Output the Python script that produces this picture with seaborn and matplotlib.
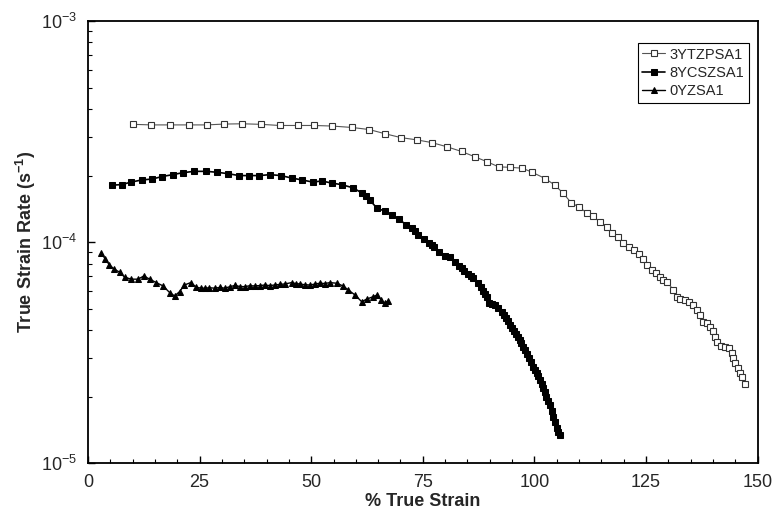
import numpy as np
import pandas as pd
import matplotlib
matplotlib.use('Agg')
import matplotlib.pyplot as plt
import seaborn as sns
from matplotlib.ticker import LogLocator, MultipleLocator

# 3YTZPSA1 (open squares)
strain_3y = [10.1, 14.2, 18.4, 22.6, 26.6, 30.5, 34.6, 38.8, 42.9, 47.0, 50.6, 54.7,
             59.2, 63.0, 66.6, 70.1, 73.7, 77.0, 80.4, 83.7, 86.7, 89.4, 92.0, 94.5,
             97.3, 99.5, 102.4, 104.6, 106.5, 108.2, 110.0, 111.7, 113.2, 114.7, 116.2,
             117.4, 118.7, 119.9, 121.2, 122.3, 123.4, 124.4, 125.3, 126.3, 127.2, 128.1,
             128.9, 129.8, 131.1, 131.9, 132.6, 133.7, 134.7, 135.6, 136.4, 137.1, 137.8,
             138.6, 139.3, 140.0, 140.5, 141.0, 141.7, 142.7, 143.5, 144.2, 144.6, 145.0,
             145.6, 146.1, 146.6, 147.2]
rate_3y = [3.41e-4, 3.39e-4, 3.39e-4, 3.39e-4, 3.39e-4, 3.42e-4, 3.43e-4, 3.41e-4, 3.37e-4,
           3.37e-4, 3.37e-4, 3.35e-4, 3.30e-4, 3.23e-4, 3.09e-4, 2.97e-4, 2.90e-4, 2.82e-4,
           2.70e-4, 2.57e-4, 2.43e-4, 2.31e-4, 2.19e-4, 2.18e-4, 2.16e-4, 2.07e-4, 1.94e-4,
           1.81e-4, 1.66e-4, 1.51e-4, 1.44e-4, 1.36e-4, 1.31e-4, 1.23e-4, 1.17e-4, 1.10e-4,
           1.05e-4, 9.95e-5, 9.53e-5, 9.21e-5, 8.81e-5, 8.39e-5, 7.88e-5, 7.48e-5, 7.28e-5,
           6.98e-5, 6.74e-5, 6.60e-5, 6.08e-5, 5.67e-5, 5.52e-5, 5.48e-5, 5.38e-5, 5.20e-5,
           4.94e-5, 4.69e-5, 4.37e-5, 4.30e-5, 4.15e-5, 3.97e-5, 3.74e-5, 3.55e-5, 3.40e-5,
           3.37e-5, 3.31e-5, 3.14e-5, 2.98e-5, 2.83e-5, 2.70e-5, 2.55e-5, 2.45e-5, 2.28e-5]

# 8YCSZSA1 (filled squares)
strain_8y = [5.3, 7.5, 9.7, 12.0, 14.4, 16.6, 19.0, 21.2, 23.7, 26.5, 28.9, 31.4, 33.8,
             36.0, 38.4, 40.8, 43.2, 45.6, 48.0, 50.3, 52.4, 54.6, 56.8, 59.4, 61.3, 62.2,
             63.1, 64.8, 66.6, 68.1, 69.7, 71.2, 72.5, 73.3, 74.0, 75.3, 76.4, 77.0, 77.6,
             78.7, 80.0, 81.2, 82.3, 83.2, 83.7, 84.2, 85.2, 85.8, 86.3, 87.4, 88.0, 88.5,
             89.0, 89.4, 89.8, 90.5, 91.1, 91.9, 92.7, 93.2, 93.6, 94.1, 94.5, 95.0, 95.4,
             95.9, 96.4, 96.8, 97.1, 97.5, 97.9, 98.3, 98.8, 99.3, 99.7, 100.1, 100.5, 100.9,
             101.2, 101.6, 102.0, 102.4, 102.7, 103.1, 103.5, 103.9, 104.2, 104.6, 105.1,
             105.4, 105.7]
rate_8y = [1.81e-4, 1.82e-4, 1.87e-4, 1.91e-4, 1.93e-4, 1.98e-4, 2.02e-4, 2.06e-4, 2.09e-4,
           2.09e-4, 2.07e-4, 2.04e-4, 2.00e-4, 2.00e-4, 2.00e-4, 2.02e-4, 2.00e-4, 1.95e-4,
           1.91e-4, 1.87e-4, 1.89e-4, 1.85e-4, 1.82e-4, 1.76e-4, 1.67e-4, 1.61e-4, 1.55e-4,
           1.42e-4, 1.38e-4, 1.32e-4, 1.27e-4, 1.20e-4, 1.16e-4, 1.12e-4, 1.08e-4, 1.03e-4,
           9.89e-5, 9.68e-5, 9.46e-5, 9.06e-5, 8.64e-5, 8.54e-5, 8.16e-5, 7.80e-5, 7.60e-5,
           7.41e-5, 7.18e-5, 7.02e-5, 6.87e-5, 6.56e-5, 6.30e-5, 6.03e-5, 5.84e-5, 5.65e-5,
           5.29e-5, 5.25e-5, 5.20e-5, 5.02e-5, 4.85e-5, 4.70e-5, 4.54e-5, 4.38e-5, 4.22e-5,
           4.09e-5, 3.96e-5, 3.85e-5, 3.73e-5, 3.61e-5, 3.50e-5, 3.37e-5, 3.25e-5, 3.12e-5,
           2.99e-5, 2.86e-5, 2.73e-5, 2.64e-5, 2.56e-5, 2.47e-5, 2.38e-5, 2.28e-5, 2.19e-5,
           2.09e-5, 2.00e-5, 1.91e-5, 1.83e-5, 1.72e-5, 1.62e-5, 1.53e-5, 1.44e-5, 1.39e-5,
           1.34e-5]

# 0YZSA1 (filled triangles)
strain_0y = [3.0, 3.9, 4.8, 5.9, 7.1, 8.2, 9.7, 11.2, 12.5, 13.8, 15.3, 16.8, 18.3, 19.4,
             20.5, 21.6, 23.0, 24.3, 25.2, 26.1, 27.2, 28.4, 29.5, 30.6, 31.7, 32.9, 34.0,
             35.1, 36.2, 37.3, 38.5, 39.6, 40.7, 41.8, 43.0, 44.1, 45.6, 46.5, 47.4, 48.5,
             49.7, 50.8, 51.9, 53.0, 54.2, 55.7, 57.1, 58.3, 59.8, 61.3, 62.4, 63.9, 64.8,
             65.7, 66.5, 67.2]
rate_0y = [8.91e-5, 8.36e-5, 7.88e-5, 7.54e-5, 7.31e-5, 6.94e-5, 6.80e-5, 6.80e-5, 7.03e-5,
           6.80e-5, 6.56e-5, 6.34e-5, 5.91e-5, 5.71e-5, 5.97e-5, 6.40e-5, 6.56e-5, 6.25e-5,
           6.20e-5, 6.19e-5, 6.22e-5, 6.19e-5, 6.24e-5, 6.19e-5, 6.28e-5, 6.37e-5, 6.30e-5,
           6.29e-5, 6.35e-5, 6.34e-5, 6.36e-5, 6.40e-5, 6.36e-5, 6.40e-5, 6.44e-5, 6.47e-5,
           6.56e-5, 6.50e-5, 6.47e-5, 6.42e-5, 6.40e-5, 6.46e-5, 6.52e-5, 6.50e-5, 6.56e-5,
           6.52e-5, 6.34e-5, 6.08e-5, 5.77e-5, 5.38e-5, 5.52e-5, 5.67e-5, 5.77e-5, 5.47e-5,
           5.29e-5, 5.43e-5]

sns.set_style('white')
plt.rcParams['font.family'] = ['Liberation Sans', 'DejaVu Sans']
plt.rcParams['mathtext.fontset'] = 'custom'
plt.rcParams['mathtext.rm'] = 'Liberation Sans'
plt.rcParams['mathtext.bf'] = 'Liberation Sans:bold'

fig = plt.figure(figsize=(7.79, 5.13), dpi=100)
ax = fig.add_axes([0.113, 0.097, 0.8595, 0.862])

sns.lineplot(x=strain_3y, y=rate_3y, ax=ax, sort=False, color='#555555', lw=0.8,
             marker='s', markersize=4.2, markerfacecolor='white', markeredgecolor='#333333',
             markeredgewidth=0.8, label='3YTZPSA1')
sns.lineplot(x=strain_8y, y=rate_8y, ax=ax, sort=False, color='black', lw=1.2,
             marker='s', markersize=4.5, markerfacecolor='black', markeredgecolor='black',
             label='8YCSZSA1')
sns.lineplot(x=strain_0y, y=rate_0y, ax=ax, sort=False, color='black', lw=1.0,
             marker='^', markersize=4.8, markerfacecolor='black', markeredgecolor='black',
             label='0YZSA1')

ax.set_yscale('log')
ax.set_xlim(0, 150)
ax.set_ylim(1e-5, 1e-3)
ax.xaxis.set_major_locator(MultipleLocator(25))
ax.xaxis.set_minor_locator(MultipleLocator(5))
ax.yaxis.set_major_locator(LogLocator(base=10, numticks=5))
ax.yaxis.set_minor_locator(LogLocator(base=10, subs=np.arange(2, 10), numticks=20))
ax.tick_params(which='both', direction='in', top=False, right=False, bottom=True, left=True,
               color='black')
ax.tick_params(which='major', length=5, width=1, labelsize=13, pad=8)
ax.tick_params(which='minor', length=3, width=0.8)
for s in ax.spines.values():
    s.set_color('black')
    s.set_linewidth(1.3)

ax.set_xlabel('% True Strain', fontsize=13, fontweight='bold', labelpad=1)
ax.set_ylabel(r'True Strain Rate (s$^{\mathbf{-1}}$)', fontsize=13, fontweight='bold', labelpad=2)

leg = ax.legend(loc='upper right', bbox_to_anchor=(0.987, 0.95), fontsize=10.5,
                frameon=True, fancybox=False, edgecolor='black', framealpha=1,
                handlelength=1.6, handletextpad=0.3, borderpad=0.3, labelspacing=0.3,
                borderaxespad=0)
leg.get_frame().set_linewidth(0.8)

fig.savefig('out.png', dpi=100)
